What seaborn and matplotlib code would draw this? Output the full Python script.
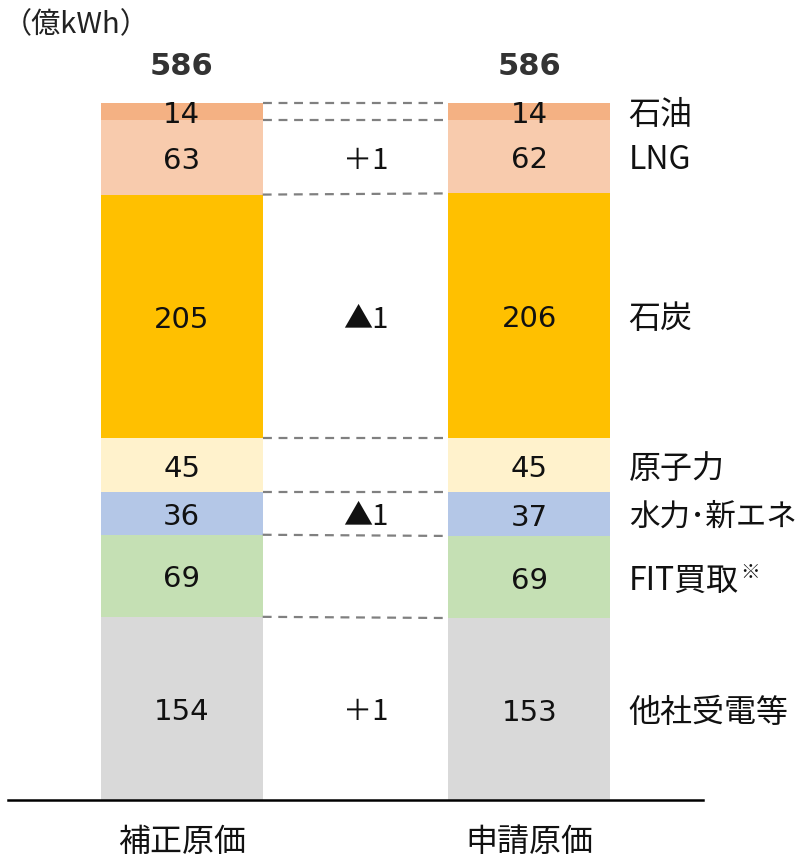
import numpy as np
import pandas as pd
import matplotlib
matplotlib.use("Agg")
import matplotlib.pyplot as plt
import seaborn as sns

# ---- data ----
categories = ["補正原価", "申請原価"]
sources = ["他社受電等", "FIT買取", "水力･新エネ", "原子力", "石炭", "LNG", "石油"]  # bottom -> top
source_marks = ["", "※", "", "", "", "", ""]
hosei = [154, 69, 36, 45, 205, 63, 14]
shinsei = [153, 69, 37, 45, 206, 62, 14]
totals = [586, 586]
diff_labels = ["＋1", "", "▲1", "", "▲1", "＋1", ""]
colors = ["#D9D9D9", "#C5E0B4", "#B4C7E7", "#FFF2CC", "#FFC000", "#F8CBAD", "#F4B183"]
unit_label = "（億kWh）"

sns.set_theme(style="white")
plt.rcParams["font.family"] = ["DejaVu Sans", "Noto Sans CJK JP"]
JP = ["Noto Sans CJK JP", "DejaVu Sans"]

fig = plt.figure(figsize=(8.08, 8.59), dpi=100)
ax = fig.add_axes([8 / 808, 59 / 859, 695 / 808, 800 / 859])

cum_h = np.cumsum(hosei)
cum_s = np.cumsum(shinsei)
width = 0.466
dy = -3.0  # small downward shift of text in data units
txt = "#111111"

# draw cumulative bars, tallest first so lower layers overlay
for i in range(len(sources) - 1, -1, -1):
    df = pd.DataFrame({"cat": categories, "val": [cum_h[i], cum_s[i]]})
    sns.barplot(data=df, x="cat", y="val", order=categories, color=colors[i],
                width=width, saturation=1, ax=ax, linewidth=0, errorbar=None)

for i in range(len(sources)):
    for j, vals in enumerate([hosei, shinsei]):
        cum = np.cumsum(vals)
        mid = cum[i] - vals[i] / 2
        ax.text(j, mid + dy, str(vals[i]), ha="center", va="center", fontsize=21, color=txt)
    mid_r = cum_s[i] - shinsei[i] / 2
    fs = 22 if len(sources[i]) > 5 else 23
    t = ax.text(1.286, mid_r + dy, sources[i], ha="left", va="center", fontsize=fs,
                color=txt, family=JP)
    if source_marks[i]:
        ax.annotate(source_marks[i], xy=(1.0, 1.0), xycoords=t, xytext=(1, 2),
                    textcoords="offset points", ha="left", va="top", fontsize=14,
                    color=txt, family=JP)
    if diff_labels[i]:
        mid_l = cum_h[i] - hosei[i] / 2
        ax.text(0.53, mid_l + dy, diff_labels[i], ha="center", va="center", fontsize=21,
                color=txt, family=JP)

# dashed connector lines at every boundary
for i in range(len(sources)):
    ax.plot([width / 2, 1 - width / 2], [cum_h[i], cum_s[i]], ls=(0, (4, 3)),
            color="#808080", lw=1.6, zorder=3)

# totals
for j, tv in enumerate(totals):
    ax.text(j, tv + 31, str(tv), ha="center", va="center", fontsize=22,
            fontweight="bold", color="#333333")

ax.text(-0.515, 651, unit_label, ha="left", va="center", fontsize=21, color="#222222",
        family=JP)

ax.set_xlim(-0.5, 1.5)
ax.set_ylim(0, 672.6)
ax.set_xlabel("")
ax.set_ylabel("")
ax.set_yticks([])
ax.set_xticks([0, 1])
ax.set_xticklabels(categories, fontsize=23, color=txt, family=JP)
ax.tick_params(axis="x", length=0, pad=19)
for s in ["top", "right", "left"]:
    ax.spines[s].set_visible(False)
ax.spines["bottom"].set_color("black")
ax.spines["bottom"].set_linewidth(1.8)
ax.patch.set_alpha(0)

fig.savefig("out.png", dpi=100)
